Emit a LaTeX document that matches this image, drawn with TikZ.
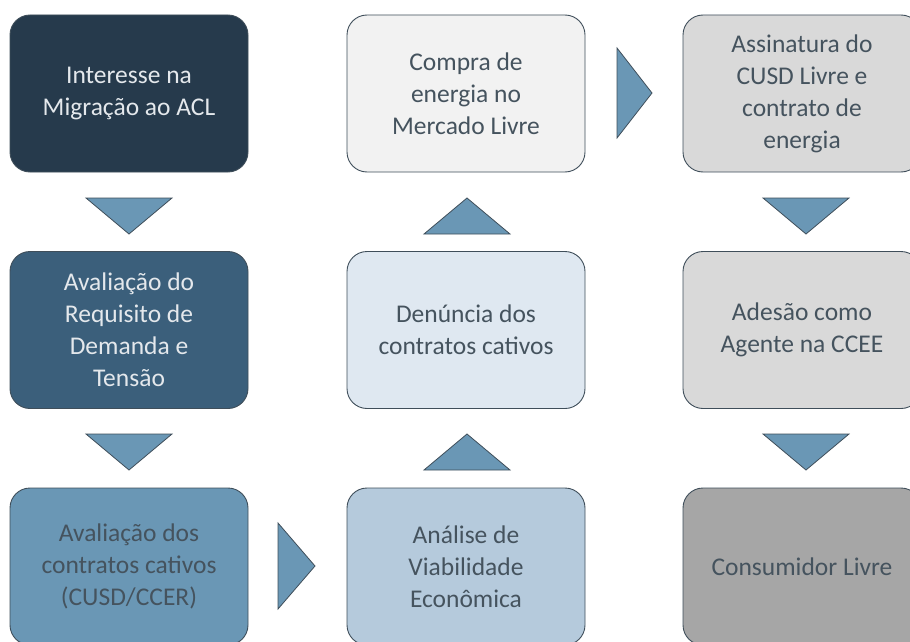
\documentclass[tikz,border=0pt]{standalone}
\usepackage{fontspec}
\setmainfont{Carlito}
\usetikzlibrary{arrows.meta}

\definecolor{navy}{HTML}{263A4C}
\definecolor{steel}{HTML}{3B5F7B}
\definecolor{sky}{HTML}{6A97B5}
\definecolor{pale}{HTML}{B5CADC}
\definecolor{mist}{HTML}{DFE8F1}
\definecolor{snow}{HTML}{F2F2F2}
\definecolor{silver}{HTML}{D9D9D9}
\definecolor{ash}{HTML}{A6A6A6}
\definecolor{edge}{HTML}{3F4E5A}
\definecolor{ink}{HTML}{45535E}
\definecolor{chalk}{HTML}{E4E8EC}

\begin{document}
\begin{tikzpicture}[x=1pt,y=-1pt,
    stage/.style = {draw=edge, line width=0.9pt, rounded corners=20pt,
        minimum width=238pt, minimum height=157pt, align=center,
        text=ink, font=\fontsize{25.5}{32}\selectfont},
    tri/.style = {draw=edge, line width=0.8pt, fill=sky, line join=miter}]
				\useasboundingbox (0,0) rectangle (910,642);
				\clip (0,0) rectangle (910,642);
				\begin{scope}[every node/.style={stage}]
					\node[fill=navy, text=chalk] (A) at (129,93.5) {Interesse na\\Migração ao ACL};
					\node[fill=steel, text=chalk] (B) at (129,330) {Avaliação do\\Requisito de\\Demanda e\\Tensão};
					\node[fill=sky] (C) at (129,566.5) {Avaliação dos\\contratos cativos\\(CUSD/CCER)};
					\node[fill=pale] (D) at (466,566.5) {Análise de\\Viabilidade\\Econômica};
					\node[fill=mist] (E) at (466,330) {Denúncia dos\\contratos cativos};
					\node[fill=snow] (F) at (466,93.5) {Compra de\\energia no\\Mercado Livre};
					\node[fill=silver] (G) at (802,93.5) {Assinatura do\\CUSD Livre e\\contrato de\\energia};
					\node[fill=silver] (H) at (802,330) {Adesão como\\Agente na CCEE};
					\node[fill=ash] (I) at (802,566.5) {Consumidor Livre};
				\end{scope}
				\draw [tri] (86,198) -- (172,198) -- (129,234) -- cycle;
				\draw [tri] (86,434) -- (172,434) -- (129,470) -- cycle;
				\draw [tri] (278,523) -- (315,566) -- (278,609) -- cycle;
				\draw [tri] (424,470) -- (510,470) -- (467,434) -- cycle;
				\draw [tri] (424,234) -- (510,234) -- (467,198) -- cycle;
				\draw [tri] (617,48) -- (652,93) -- (617,138) -- cycle;
				\draw [tri] (763,198) -- (849,198) -- (806,234) -- cycle;
				\draw [tri] (763,434) -- (849,434) -- (806,470) -- cycle;
			\end{tikzpicture}
\end{document}
